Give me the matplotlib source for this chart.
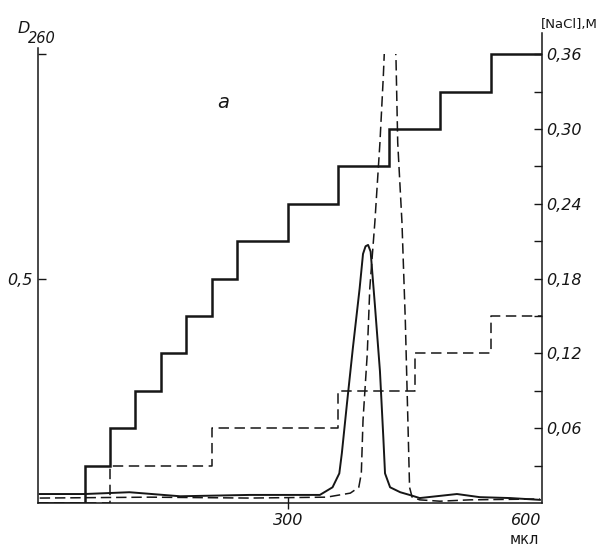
import numpy as np
import matplotlib
matplotlib.use("Agg")
import matplotlib.pyplot as plt
from matplotlib.patches import Rectangle

plt.rcParams["font.family"] = ["DejaVu Sans"]
plt.rcParams["lines.scale_dashes"] = False

INK = "#161616"

# Elution volume, µl, and salt steps of the two gradients
step_x_solid = [5, 60, 90, 120, 150, 180, 210, 240, 300, 360, 420, 480, 540, 600]
step_nacl_solid = [0.0, 0.03, 0.06, 0.09, 0.12, 0.15, 0.18, 0.21, 0.24, 0.27,
                   0.30, 0.33, 0.36, 0.36]
step_x_dashed = [5, 90, 210, 360, 450, 540, 600]
step_nacl_dashed = [0.0, 0.03, 0.06, 0.09, 0.12, 0.15, 0.15]

# Absorbance profiles (D260)
vol_solid = [7, 60, 113, 173, 255, 314, 338, 353, 361, 364, 370, 377, 385, 389,
             392, 395, 398, 403, 409, 413, 415, 421, 433, 444, 456, 500, 527,
             563, 598]
d260_solid = [0.020, 0.020, 0.024, 0.015, 0.018, 0.018, 0.018, 0.035, 0.066,
              0.111, 0.221, 0.345, 0.478, 0.555, 0.572, 0.575, 0.560, 0.442,
              0.294, 0.146, 0.066, 0.035, 0.024, 0.018, 0.011, 0.020, 0.013,
              0.011, 0.007]
vol_dashed = [7, 137, 255, 346, 374, 384, 387, 389, 394, 397, 403, 409, 413,
              414, 421, 428, 430, 435, 439, 442, 444, 447, 456, 480, 515, 598]
d260_dashed = [0.011, 0.013, 0.011, 0.013, 0.022, 0.035, 0.066, 0.184, 0.332,
               0.478, 0.626, 0.803, 0.951, 0.996, 1.30, 0.987, 0.803, 0.626,
               0.405, 0.184, 0.035, 0.013, 0.007, 0.004, 0.007, 0.009]

right_major = [0.06, 0.12, 0.18, 0.24, 0.30, 0.36]
right_minor = [0.03, 0.09, 0.15, 0.21, 0.27, 0.33]
left_ticks = [0.5, 1.0]
left_labels = ["0,5", ""]

fig = plt.figure(figsize=(6.01, 5.47), dpi=100)
ax = fig.add_axes([38 / 601, 1 - 503 / 547, (541.6 - 38) / 601, (503 - 33) / 547])
ax2 = ax.twinx()

ax.set_xlim(5, 600)
ax.set_ylim(0, 1.0 * 0.377 / 0.36)
ax2.set_ylim(0, 0.377)

# Salt gradients
ax2.step(step_x_solid, step_nacl_solid, where="post", color=INK, lw=1.8,
         solid_joinstyle="miter")
ax2.step(step_x_dashed, step_nacl_dashed, where="post", color=INK, lw=1.1,
         dashes=(7.5, 4.0))

# Absorbance
ax.plot(vol_solid, d260_solid, color=INK, lw=1.4, solid_joinstyle="round")
dline, = ax.plot(vol_dashed, d260_dashed, color=INK, lw=1.1, dashes=(7.5, 3.5))
dline.set_clip_path(Rectangle((0, 0), 700, 1.0, transform=ax.transData))

for a in (ax, ax2):
    a.spines["top"].set_visible(False)
    for s in a.spines.values():
        s.set_linewidth(1.1)
        s.set_color(INK)
ax.spines["right"].set_visible(False)
ax2.spines["left"].set_visible(False)
ax2.spines["bottom"].set_visible(False)
ax.spines["left"].set_bounds(0, 1.013)

tick_font = dict(family="DejaVu Sans", style="italic", size=11.5)

ax.set_yticks(left_ticks)
ax.set_yticklabels(left_labels, **tick_font)
ax.tick_params(axis="y", direction="in", length=5.5, width=1.0, pad=4, colors=INK)

ax.set_xticks([300, 600])
ax.set_xticklabels(["300", "600"], **tick_font)
ax.get_xticklabels()[1].set_horizontalalignment("right")
ax.tick_params(axis="x", direction="inout", length=9, width=1.0, pad=3, colors=INK)
ax.xaxis.get_major_ticks()[1].tick1line.set_visible(False)

ax2.set_yticks(right_major)
ax2.set_yticklabels([f"{v:.2f}".replace(".", ",") for v in right_major], **tick_font)
ax2.set_yticks(right_minor, minor=True)
ax2.tick_params(axis="y", which="major", direction="in", length=6, width=1.0,
                pad=3.5, colors=INK)
ax2.tick_params(axis="y", which="minor", direction="in", length=5.5, width=1.0,
                colors=INK)

# Axis captions
fig.text(18 / 601, 1 - 33 / 547, "D", style="italic", size=11.5, color=INK,
         ha="left", va="baseline")
fig.text(28 / 601, 1 - 43 / 547, "260", style="italic", size=10.5, color=INK,
         ha="left", va="baseline")
fig.text(598 / 601, 1 - 28 / 547, "[NaCl],M", size=9.5, color=INK,
         ha="right", va="baseline")
fig.text(524 / 601, 1 - 539 / 547, "мкл", size=10.5, color=INK,
         ha="center", va="center")
fig.text(223 / 601, 1 - 103 / 547, "a", style="italic", size=14, color=INK,
         ha="center", va="center")

fig.savefig("out.png", dpi=100, facecolor="white")
